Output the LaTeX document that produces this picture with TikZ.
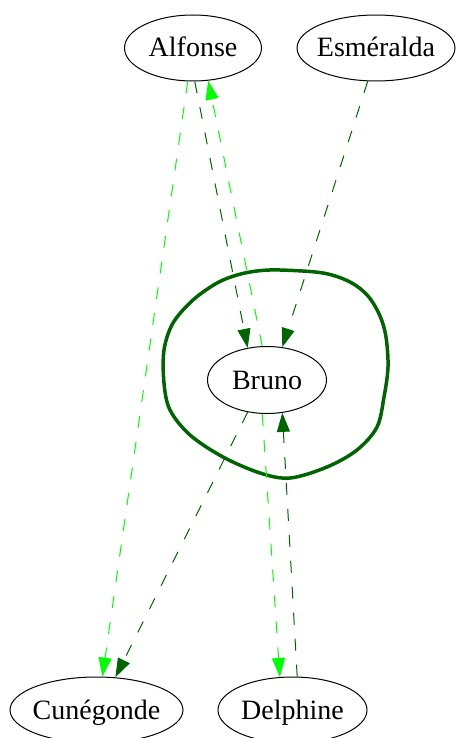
\documentclass[tikz,border=0pt]{standalone}
\usepackage{fontspec}
\setmainfont{Liberation Serif}
\usepackage{tikz}
\usetikzlibrary{shapes, arrows.meta, shapes.geometric}

\definecolor{dkgreen}{RGB}{0,100,0}
\definecolor{ltgreen}{RGB}{0,255,0}

\begin{document}
\begin{tikzpicture}
 	  [x=1pt, y=-1pt,
 	person/.style={ellipse,draw=black,line width=1pt,inner xsep=-4pt,inner ysep=0pt,
 	  minimum height=66pt,text height=21pt,text depth=3pt,
 	  font=\fontsize{28}{32}\selectfont},
 	dk/.style={draw=dkgreen,line width=1pt,dash pattern=on 12pt off 14pt,
 	  -{Triangle[length=19pt,width=13pt,fill=dkgreen]}},
 	lt/.style={draw=ltgreen,line width=1pt,dash pattern=on 12pt off 14pt,
 	  -{Triangle[length=19pt,width=13pt,fill=ltgreen]}}]
 	\useasboundingbox (0,0) rectangle (455,738);

 	\node[person, minimum width=137pt](alf) at (193,48) {Alfonse};
 	\node[person, minimum width=158pt](esm) at (376,48) {Esméralda};
 	\node[person, minimum width=119pt, minimum height=67pt](bru) at (267,380) {Bruno};
 	\node[person, minimum width=173pt](cun) at (96.5,710) {Cunégonde};
 	\node[person, minimum width=149pt](del) at (292.5,710) {Delphine};

 	% ring around Bruno
 	\draw[dkgreen, line width=3.5pt] plot[smooth cycle, tension=0.55] coordinates {
 	  (257,271) (280,270) (323,273) (350,282) (368,296) (380,316) (386,337)
 	  (388,367) (384,397) (377,427) (357,450) (327,467) (290,478) (260,473)
 	  (223,457) (190,435) (170,410) (164,383) (164,350) (173,323) (193,300)
 	  (217,283) (237,275)};

 	\draw[dk] (alf.-87) -- (bru.121);
 	\draw[lt] (bru.98) -- (alf.-65);
 	\draw[dk] (esm.-104) -- (bru.65);
 	\draw[lt] (alf.-99) -- (cun.80);
 	\draw[dk] (bru.-121) -- (cun.60);
 	\draw[lt] (bru.-98) -- (del.111);
 	\draw[dk] (del.82) -- (bru.-65);
 \end{tikzpicture}
\end{document}
